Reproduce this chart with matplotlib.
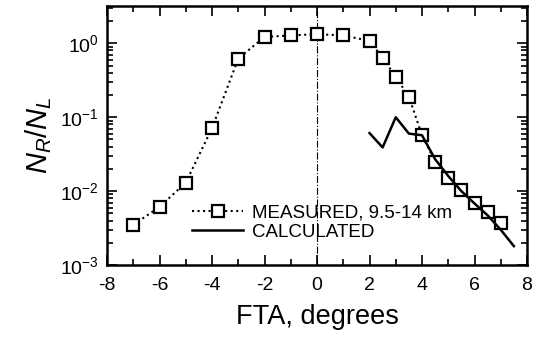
import matplotlib
matplotlib.use("Agg")
import matplotlib.pyplot as plt
from matplotlib.ticker import LogLocator, MultipleLocator, NullFormatter

plt.rcParams['font.family'] = ['Liberation Sans', 'DejaVu Sans']
plt.rcParams['mathtext.fontset'] = 'custom'
plt.rcParams['mathtext.rm'] = 'Liberation Sans'
plt.rcParams['mathtext.it'] = 'Liberation Sans:italic'
plt.rcParams['axes.unicode_minus'] = False

# measured ratio N_R/N_L vs FTA
meas_fta = [-7, -6, -5, -4, -3, -2, -1, 0, 1, 2, 2.5, 3, 3.5, 4, 4.5, 5, 5.5, 6, 6.5, 7]
meas_ratio = [0.0035, 0.0061, 0.013, 0.071, 0.62, 1.22, 1.28, 1.33, 1.28, 1.08,
              0.64, 0.35, 0.19, 0.057, 0.025, 0.015, 0.0103, 0.0069, 0.0052, 0.0037]

# calculated curve
calc_fta = [2.0, 2.5, 3.0, 3.5, 4.0, 4.5, 5.0, 5.5, 6.0, 6.5, 7.0, 7.5]
calc_ratio = [0.061, 0.039, 0.10, 0.060, 0.057, 0.027, 0.016, 0.010, 0.0068, 0.0047, 0.0030, 0.0018]

fig = plt.figure(figsize=(5.37, 3.45), dpi=100)
ax = fig.add_axes([107 / 537, 80 / 345, 420 / 537, 259 / 345])

ax.axvline(0, color='black', lw=0.8, ls='-.')
ax.plot(meas_fta, meas_ratio, ls=':', lw=1.5, color='black', marker='s', ms=8.5,
        mfc='white', mec='black', mew=1.6, label='MEASURED, 9.5-14 km')
ax.plot(calc_fta, calc_ratio, ls='-', lw=1.8, color='black', label='CALCULATED')

ax.set_yscale('log')
ax.set_xlim(-8, 8)
ax.set_ylim(1e-3, 3.2)
ax.xaxis.set_major_locator(MultipleLocator(2))
ax.xaxis.set_minor_locator(MultipleLocator(1))
ax.yaxis.set_major_locator(LogLocator(base=10, numticks=10))
ax.yaxis.set_minor_locator(LogLocator(base=10, subs=range(2, 10), numticks=20))
ax.yaxis.set_minor_formatter(NullFormatter())

ax.tick_params(which='both', direction='in', top=True, right=True, width=1.2,
               labelsize=14)
ax.tick_params(which='major', length=7)
ax.tick_params(which='minor', length=4)
ax.tick_params(axis='x', pad=9)
ax.tick_params(axis='y', pad=6)
for s in ax.spines.values():
    s.set_linewidth(1.8)

ax.set_xlabel('FTA, degrees', fontsize=19.5, labelpad=7)
ax.set_ylabel(r'$N_R/N_L$', fontsize=21, labelpad=4)

ax.legend(loc='lower left', bbox_to_anchor=(0.185, 0.065), frameon=False,
          fontsize=13.5, handlelength=2.7, labelspacing=0.12, handletextpad=0.5,
          borderaxespad=0)

fig.savefig('out.png', dpi=100)
